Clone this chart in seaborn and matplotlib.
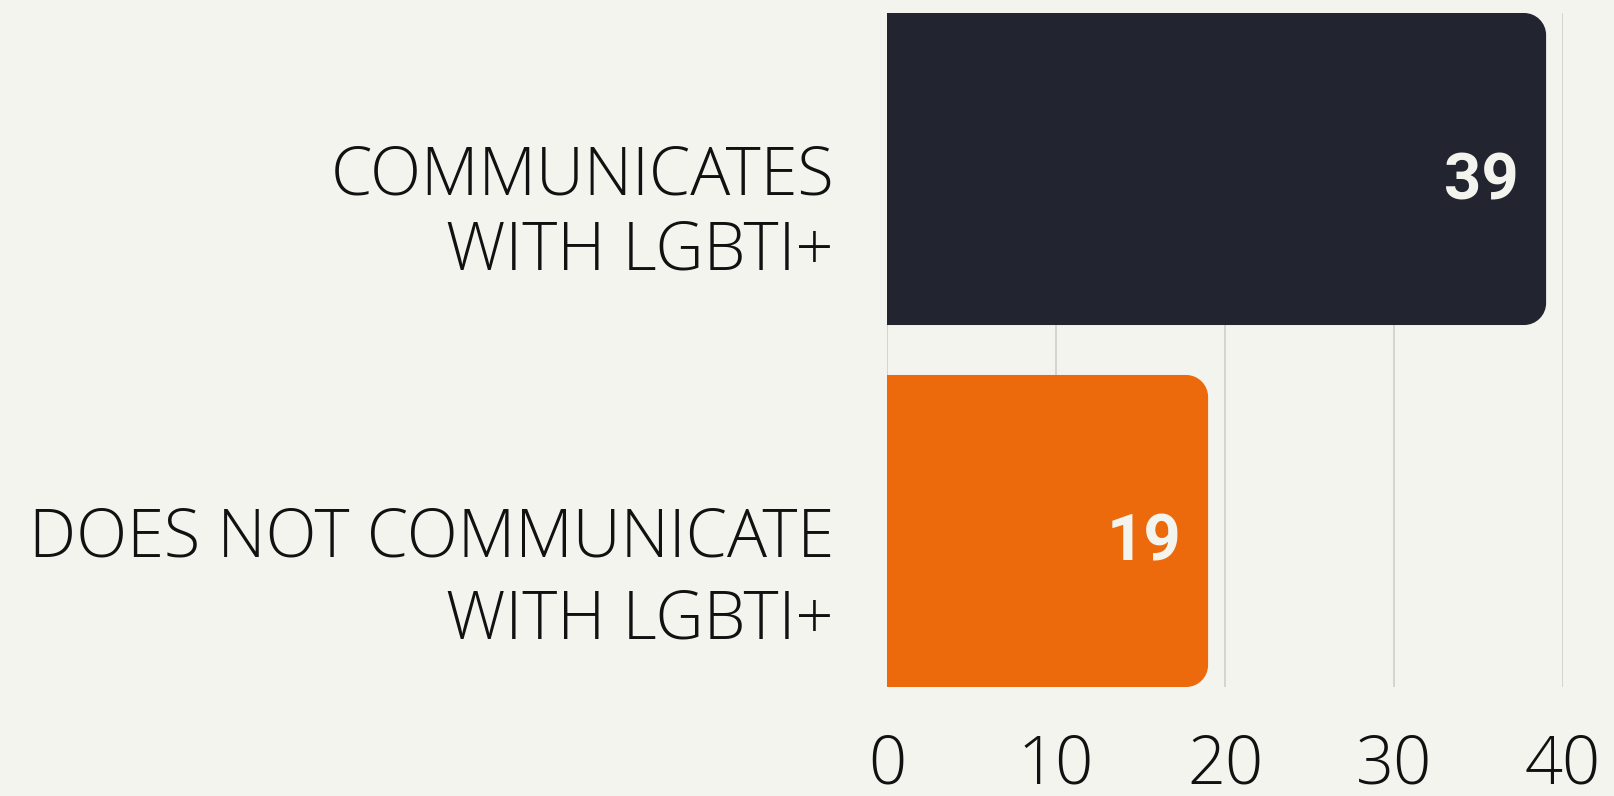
import numpy as np
import pandas as pd
import matplotlib
matplotlib.use("Agg")
import matplotlib.pyplot as plt
import matplotlib.transforms as mtransforms
from matplotlib.path import Path
from matplotlib.patches import PathPatch
import seaborn as sns

categories = ["COMMUNICATES\nWITH LGBTI+", "DOES NOT COMMUNICATE\nWITH LGBTI+"]
values = [39, 19]
value_labels = ["39", "19"]
bar_colors = ["#222530", "#ec6a0c"]
x_ticks = [0, 10, 20, 30, 40]
x_tick_labels = ["0", "10", "20", "30", "40"]

BG = "#f4f4ef"
sns.set_theme(style="white")
plt.rcParams['font.family'] = ['Open Sans', 'DejaVu Sans']

fig = plt.figure(figsize=(16.15, 7.96), dpi=100, facecolor=BG)
W, H = 1615, 796
ax = fig.add_axes([887 / W, (796 - 687) / H, (1563 - 887) / W, (687 - 13) / H])
ax.set_facecolor(BG)

df = pd.DataFrame({"cat": categories, "val": values})
sns.barplot(data=df, y="cat", x="val", hue="cat", palette=bar_colors,
            orient="h", width=0.862, legend=False, ax=ax, zorder=2)

ax.set_xlim(0, 40)
ax.set_ylim(1.431, -0.431)
ax.set_xticks(x_ticks)
ax.set_xticklabels(x_tick_labels, fontsize=48, fontweight="light", color="#111111")
ax.tick_params(axis="x", length=0, pad=33)
ax.set_yticks([])
ax.set_xlabel("")
ax.set_ylabel("")
for s in ax.spines.values():
    s.set_visible(False)
ax.grid(axis="x", color="#cfcfca", linewidth=1.2, zorder=0)
ax.set_axisbelow(True)

fig.canvas.draw()
bbox = ax.get_window_extent()
px_x = bbox.width / 40.0
px_y = bbox.height / (1.431 + 0.431)
r_px = 22
rx = r_px / px_x
ry = r_px / px_y
k = 0.5523

for p, col in zip(list(ax.patches), bar_colors):
    x0 = p.get_x(); w = p.get_width()
    y0 = p.get_y(); h = p.get_height()
    x1 = x0 + w
    ya, yb = y0, y0 + h
    verts = [
        (x0, ya),
        (x1 - rx, ya),
        (x1 - rx + k * rx, ya), (x1, ya + ry - k * ry), (x1, ya + ry),
        (x1, yb - ry),
        (x1, yb - ry + k * ry), (x1 - rx + k * rx, yb), (x1 - rx, yb),
        (x0, yb),
        (x0, ya),
    ]
    codes = [Path.MOVETO, Path.LINETO,
             Path.CURVE4, Path.CURVE4, Path.CURVE4,
             Path.LINETO,
             Path.CURVE4, Path.CURVE4, Path.CURVE4,
             Path.LINETO, Path.CLOSEPOLY]
    pp = PathPatch(Path(verts, codes), facecolor=col, edgecolor="none", zorder=2)
    p.set_visible(False)
    ax.add_patch(pp)

# category labels (last-line baseline offset below bar centre, px)
linesp = [1.16, 1.32]
last_base = [100, 108]
for i, (lab, ls, lb) in enumerate(zip(categories, linesp, last_base)):
    tr = ax.get_yaxis_transform() + mtransforms.ScaledTranslation(-53 / 100, -lb / 100, fig.dpi_scale_trans)
    ax.text(0, i, lab, transform=tr, ha="right", va="baseline", fontsize=48,
            fontweight="light", color="#111111", linespacing=ls, multialignment="right")

# value labels
for i, (v, lab) in enumerate(zip(values, value_labels)):
    tr = ax.transData + mtransforms.ScaledTranslation(-27 / 100, -30 / 100, fig.dpi_scale_trans)
    ax.text(v, i, lab, transform=tr, ha="right", va="baseline", fontsize=47,
            fontweight="bold", family=["Roboto", "DejaVu Sans"], color="#f4f4ef", zorder=3)

fig.savefig("out.png", dpi=100, facecolor=BG)
